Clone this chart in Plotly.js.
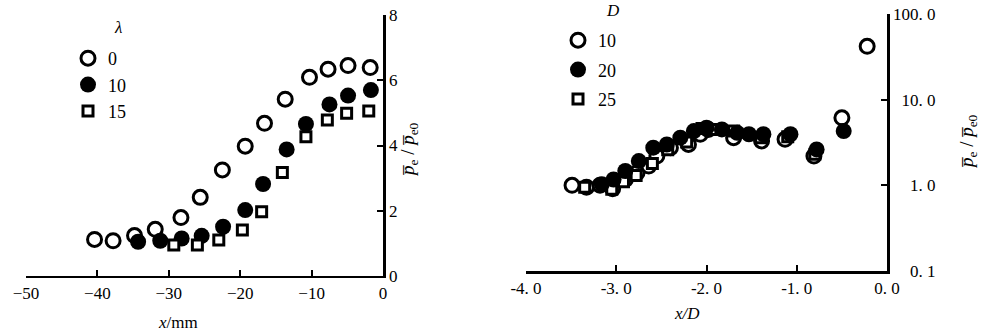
<!DOCTYPE html>
<html>
<head>
<meta charset="utf-8">
<script src="https://cdn.plot.ly/plotly-3.0.1.min.js"></script>
<style>html,body{margin:0;padding:0;background:#fff;}#chart{width:988px;height:334px;}</style>
</head>
<body>
<div id="chart"></div>
<script>
// ---- Left panel: x (mm) vs mean pressure ratio, series by lambda ----
const leftNames = ["0", "10", "15"];
const leftX0  = [-40.4, -37.8, -34.8, -31.9, -28.3, -25.6, -22.5, -19.3, -16.6, -13.7, -10.3, -7.7, -4.9, -1.8];
const leftY0  = [1.12, 1.08, 1.24, 1.43, 1.79, 2.41, 3.25, 3.98, 4.68, 5.42, 6.09, 6.34, 6.45, 6.39];
const leftX10 = [-34.3, -31.2, -28.2, -25.4, -22.4, -19.3, -16.8, -13.5, -10.8, -7.5, -4.9, -1.7];
const leftY10 = [1.05, 1.08, 1.15, 1.23, 1.51, 2.02, 2.82, 3.88, 4.66, 5.26, 5.53, 5.70];
const leftX15 = [-29.3, -26.0, -23.0, -19.7, -17.0, -14.1, -10.8, -7.8, -5.1, -2.0];
const leftY15 = [0.95, 0.95, 1.10, 1.41, 1.97, 3.17, 4.27, 4.78, 4.99, 5.06];
const leftXTicks = [-50, -40, -30, -20, -10, 0];
const leftYTicks = [0, 2, 4, 6, 8];

// ---- Right panel: x/D vs mean pressure ratio (log), series by D ----
const rightNames = ["10", "20", "25"];
const rightX10 = [-3.49, -3.33, -3.18, -3.04, -2.90, -2.77, -2.64, -2.55, -2.40, -2.20, -2.07, -1.98, -1.70, -1.39, -1.13, -0.81, -0.50, -0.22];
const rightY10 = [1.0, 0.95, 1.0, 0.91, 1.17, 1.40, 1.68, 2.2, 2.75, 3.0, 3.94, 4.5, 3.6, 3.3, 3.45, 2.2, 6.15, 42];
const rightX20 = [-3.16, -3.03, -2.90, -2.75, -2.59, -2.44, -2.29, -2.14, -2.00, -1.83, -1.66, -1.53, -1.37, -1.07, -0.78, -0.48];
const rightY20 = [1.03, 1.17, 1.47, 1.92, 2.75, 3.0, 3.6, 4.3, 4.7, 4.5, 4.1, 3.95, 3.95, 3.95, 2.63, 4.3];
const rightX25 = [-3.35, -3.05, -2.92, -2.78, -2.60, -2.43, -2.22, -2.05, -1.90, -1.70, -1.40, -1.10, -0.80];
const rightY25 = [0.95, 0.90, 1.10, 1.30, 1.80, 2.60, 3.20, 4.60, 4.50, 4.30, 3.60, 3.70, 2.30];
const rightXTickVals = [-4, -3, -2, -1, 0];
const rightXTickText = ["-4. 0", "-3. 0", "-2. 0", "-1. 0", "0. 0"];
const rightYTickVals = [0.1, 1, 10, 100];
const rightYTickText = ["\u2007\u20070. 1", "\u2007\u20071. 0", "\u200710. 0", "100. 0"];

const FONT = "'Liberation Serif', 'DejaVu Serif', serif";
const openC = {symbol: "circle", size: 14, color: "white", line: {color: "black", width: 3}};
const fillC = {symbol: "circle", size: 16, color: "black", line: {color: "black", width: 0}};
const sqr   = {symbol: "square", size: 10, color: "white", line: {color: "black", width: 3}};

const traces = [
  {x: leftX0,  y: leftY0,  name: leftNames[0], mode: "markers", marker: openC, xaxis: "x",  yaxis: "y",  legend: "legend",  legendgroup: "a"},
  {x: leftX10, y: leftY10, name: leftNames[1], mode: "markers", marker: fillC, xaxis: "x",  yaxis: "y",  legend: "legend",  legendgroup: "b"},
  {x: leftX15, y: leftY15, name: leftNames[2], mode: "markers", marker: sqr,   xaxis: "x",  yaxis: "y",  legend: "legend",  legendgroup: "c"},
  {x: rightX10, y: rightY10, name: rightNames[0], mode: "markers", marker: openC, xaxis: "x2", yaxis: "y2", legend: "legend2", legendgroup: "d", legendrank: 1},
  {x: rightX25, y: rightY25, name: rightNames[2], mode: "markers", marker: sqr,   xaxis: "x2", yaxis: "y2", legend: "legend2", legendgroup: "f", legendrank: 3},
  {x: rightX20, y: rightY20, name: rightNames[1], mode: "markers", marker: fillC, xaxis: "x2", yaxis: "y2", legend: "legend2", legendgroup: "e", legendrank: 2}
];

const axBase = {
  showgrid: false, zeroline: false, showline: true, linecolor: "black", linewidth: 2.5,
  ticks: "inside", ticklen: 6, tickwidth: 2, tickcolor: "black",
  tickfont: {family: FONT, size: 17, color: "black"}, fixedrange: true
};

function ann(text, px, py, size, angle) {
  return {text: text, xref: "paper", yref: "paper", x: px / 988, y: 1 - py / 334,
          xanchor: "center", yanchor: "middle", textangle: angle || 0, showarrow: false,
          font: {family: FONT, size: size, color: "black"}};
}

const layout = {
  width: 988, height: 334,
  margin: {l: 0, r: 0, t: 0, b: 0},
  paper_bgcolor: "white", plot_bgcolor: "white",
  font: {family: FONT, color: "black"},
  showlegend: true,
  xaxis: Object.assign({}, axBase, {domain: [0.0263, 0.3877], range: [-50, 0], tickvals: leftXTicks, anchor: "y"}),
  yaxis: Object.assign({}, axBase, {domain: [0.1737, 0.955], range: [0, 8], tickvals: leftYTicks, side: "right", anchor: "x"}),
  xaxis2: Object.assign({}, axBase, {domain: [0.5324, 0.8978], range: [-4, 0], tickvals: rightXTickVals, ticktext: rightXTickText, anchor: "y2"}),
  yaxis2: Object.assign({}, axBase, {domain: [0.1886, 0.958], type: "log", range: [-1, 2], tickvals: rightYTickVals, ticktext: rightYTickText, side: "right", anchor: "x2"}),
  legend: {x: 68/988, y: 1 - 40/334, xanchor: "left", yanchor: "top", bgcolor: "rgba(0,0,0,0)",
           font: {family: FONT, size: 18, color: "black"}, traceorder: "grouped", tracegroupgap: 0, itemsizing: "trace"},
  legend2: {x: 558/988, y: 1 - 22/334, xanchor: "left", yanchor: "top", bgcolor: "rgba(0,0,0,0)",
           font: {family: FONT, size: 18, color: "black"}, traceorder: "grouped", tracegroupgap: 3, itemsizing: "trace"},
  annotations: [
    ann("<i>λ</i>", 118, 27, 17),
    ann("<i>D</i>", 613, 11, 17),
    ann("<i>x</i>/mm", 178, 322, 17),
    ann("<i>x/D</i>", 687, 313, 17),
    ann("<i>p\u0305</i><sub>e</sub> / <i>p\u0305</i><sub>e0</sub>", 409, 150, 19, -90),
    ann("<i>p\u0305</i><sub>e</sub> / <i>p\u0305</i><sub>e0</sub>", 968, 142, 19, -90)
  ]
};

Plotly.newPlot("chart", traces, layout, {staticPlot: true, displayModeBar: false});
</script>
</body>
</html>
